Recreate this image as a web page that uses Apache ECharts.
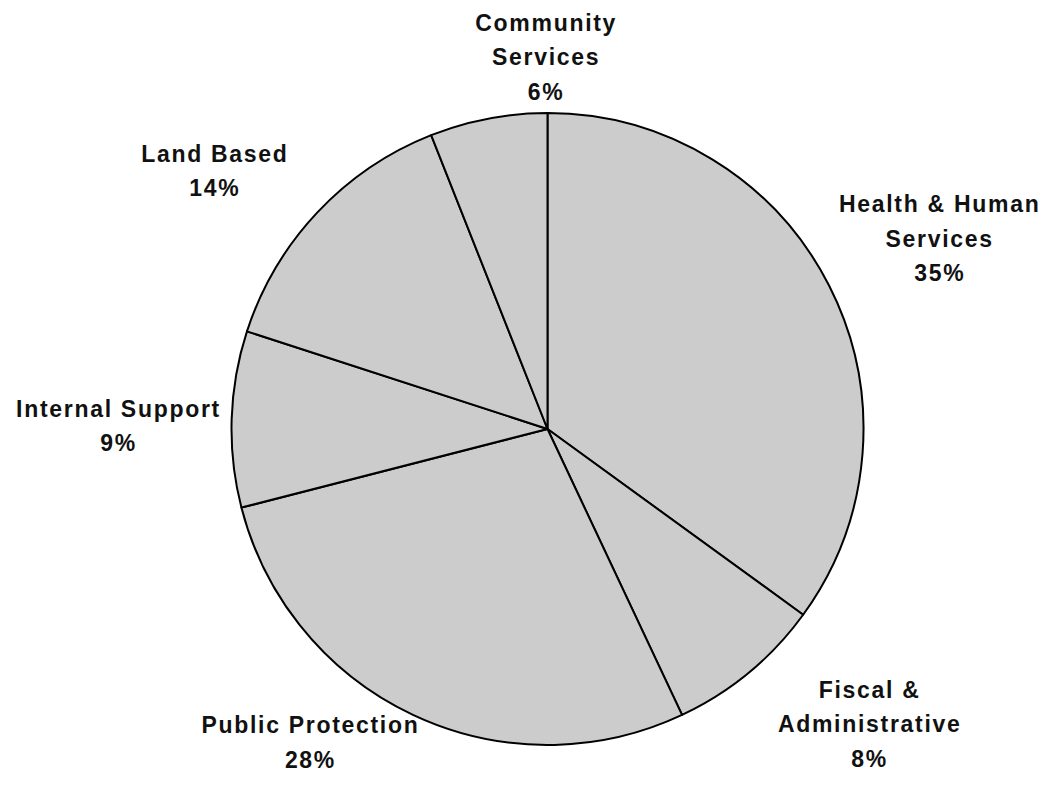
<!DOCTYPE html>
<html>
<head>
<meta charset="utf-8">
<script src="https://cdn.jsdelivr.net/npm/echarts@6/dist/echarts.min.js"></script>
<style>
  html, body { margin: 0; padding: 0; background: #ffffff; }
  #chart { width: 1049px; height: 800px; }
  #chart text { letter-spacing: 1.7px; }
</style>
</head>
<body>
<div id="chart"></div>
<script>
// Budget share by service area, clockwise from 12 o'clock
const categories = [
  'Health & Human\nServices',
  'Fiscal &\nAdministrative',
  'Public Protection',
  'Internal Support',
  'Land Based',
  'Community\nServices'
];
const shares = [35, 8, 28, 9, 14, 6];

// Pie geometry (px)
const CX = 547.5, CY = 429, R = 316;
// Where each label block sits: bearing (deg clockwise from top) and distance from the pie centre
const labelBearing = [64.1, 132.5, 217.1, 270.4, 307.8, 359.8];
const labelDistance = [436, 437, 393, 429, 421, 372];

const chart = echarts.init(document.getElementById('chart'), null, { renderer: 'svg' });

chart.setOption({
  backgroundColor: '#ffffff',
  animation: false,
  series: [{
    type: 'pie',
    center: [CX, CY],
    radius: R,
    startAngle: 90,
    clockwise: true,
    avoidLabelOverlap: false,
    data: categories.map((name, i) => ({ name: name, value: shares[i] })),
    itemStyle: {
      color: '#cccccc',
      borderColor: '#000000',
      borderWidth: 2
    },
    emphasis: { disabled: true },
    label: {
      show: true,
      position: 'outside',
      formatter: p => p.name + '\n' + p.value + '%',
      color: '#111111',
      fontFamily: 'Liberation Sans, Arial, sans-serif',
      fontWeight: 'bold',
      fontSize: 23,
      lineHeight: 34.5
    },
    labelLine: { show: false },
    labelLayout: function (params) {
      const i = params.dataIndex;
      const a = labelBearing[i] * Math.PI / 180;
      return {
        x: CX + labelDistance[i] * Math.sin(a),
        y: CY - labelDistance[i] * Math.cos(a),
        align: 'center',
        verticalAlign: 'middle'
      };
    }
  }]
});
</script>
</body>
</html>
